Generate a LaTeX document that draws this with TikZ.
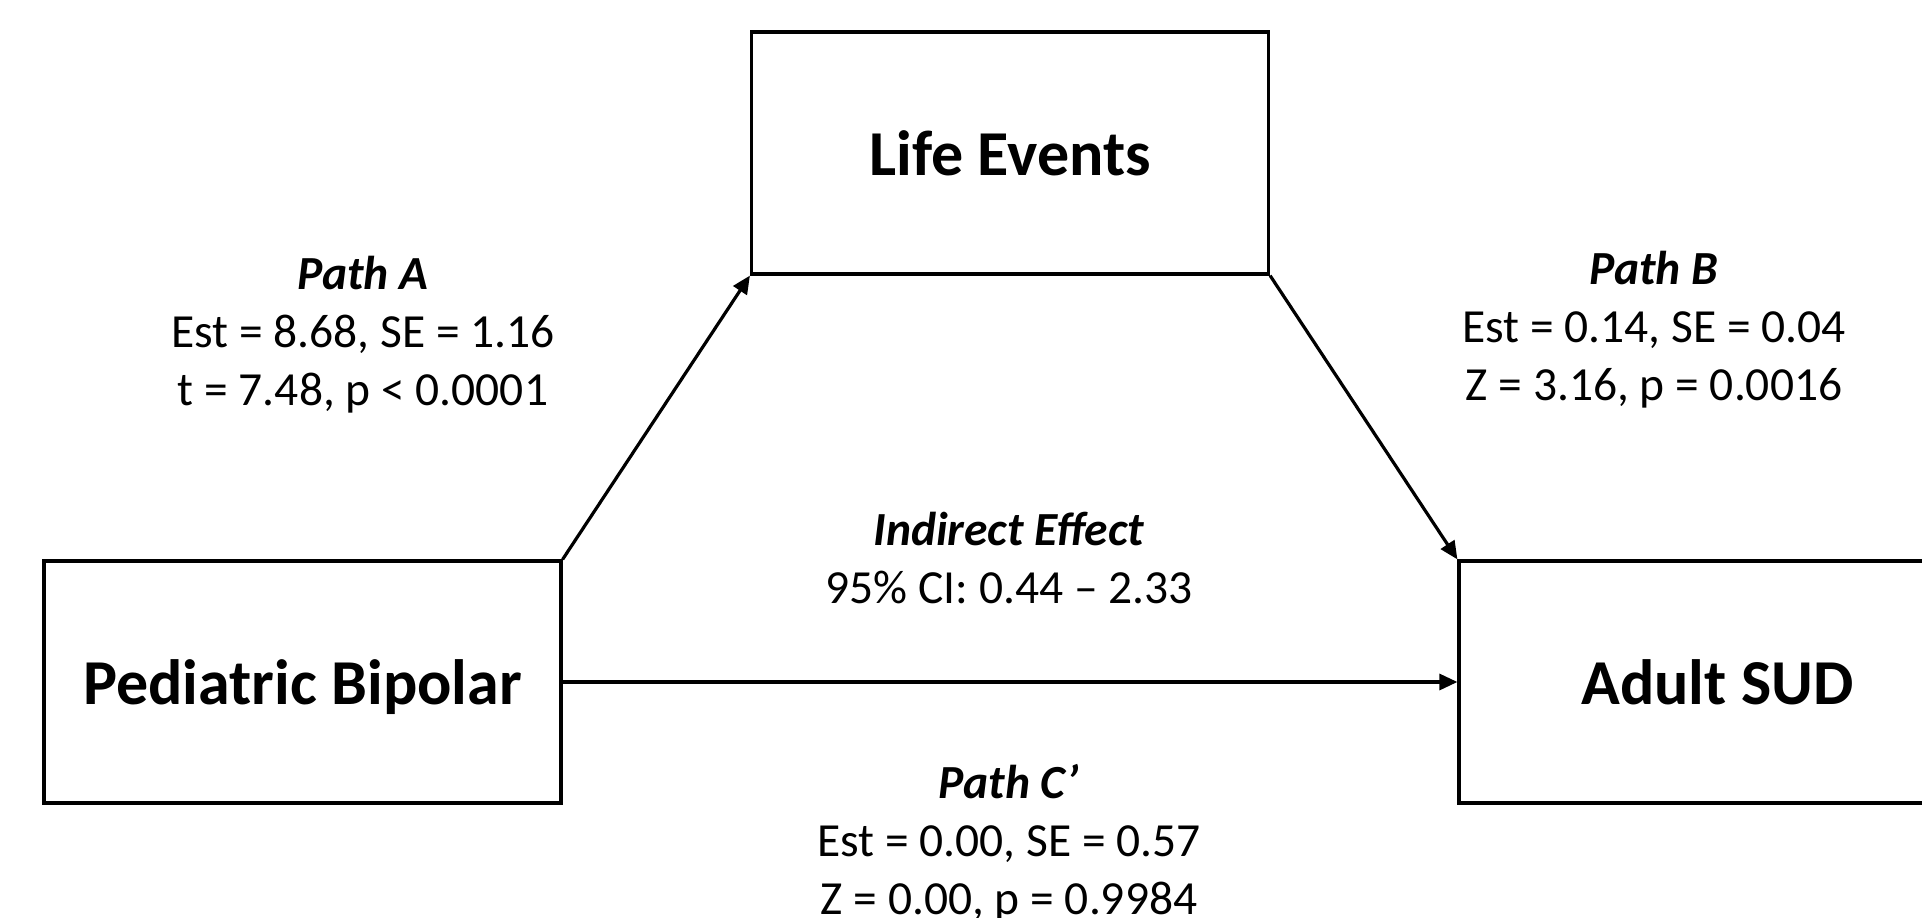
\documentclass[tikz,border=0pt]{standalone}
\usepackage{fontspec}
\setmainfont{Carlito}
\usetikzlibrary{arrows.meta}
\begin{document}
\begin{tikzpicture}[x=1pt,y=-1pt,
  varbox/.style={draw=black,line width=3.2pt,minimum width=517pt,minimum height=242pt,inner sep=0pt,text depth=0pt,font=\fontsize{64}{76}\selectfont\bfseries},
  lbl/.style={align=center,inner sep=0pt,font=\fontsize{47.5}{58}\selectfont},
  arr/.style={line width=3.2pt,-{Triangle[length=18pt,width=16pt]}}]
\clip (0,0) rectangle (1922,918);
\fill[white] (0,0) rectangle (1922,918);
\node[varbox] (pb) at (302.5,682) {Pediatric Bipolar};
\node[varbox] (le) at (1010,153) {Life Events};
\node[varbox] (as) at (1717.5,682) {Adult SUD};
\draw[arr] (pb.north east) -- (le.south west);
\draw[arr] (le.south east) -- (as.north west);
\draw[arr] (pb.east) -- (as.west);
\node[lbl] (pa) at (363,335) {\textbf{\textit{Path A}}\\Est = 8.68, SE = 1.16\\t = 7.48, p < 0.0001};
\node[lbl] (pbl) at (1654,330) {\textbf{\textit{Path B}}\\Est = 0.14, SE = 0.04\\Z = 3.16, p = 0.0016};
\node[lbl] (ie) at (1009,558) {\textbf{\textit{Indirect Effect}}\\95\% CI: 0.44 – 2.33};
\node[lbl] (pc) at (1009,843) {\textbf{\textit{Path C’}}\\Est = 0.00, SE = 0.57\\Z = 0.00, p = 0.9984};
\end{tikzpicture}
\end{document}
